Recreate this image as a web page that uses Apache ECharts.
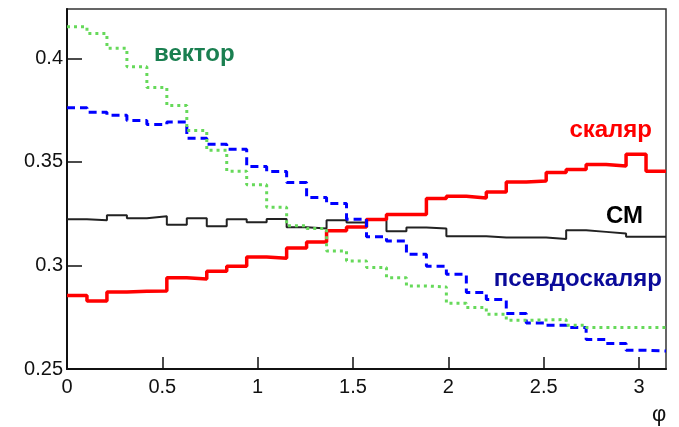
<!DOCTYPE html>
<html>
<head>
<meta charset="utf-8">
<script src="https://cdn.jsdelivr.net/npm/echarts@6/dist/echarts.min.js"></script>
<style>
  html, body { margin: 0; padding: 0; background: #fff; }
  #chart { width: 679px; height: 427px; }
</style>
</head>
<body>
<div id="chart"></div>
<script>
// 30 bins from 0 to pi
var nBins = 30;
var xMax = Math.PI;

// СМ
var smVals = [0.3223, 0.3218, 0.3242, 0.3228, 0.3237, 0.3197, 0.3228, 0.3189, 0.3223, 0.3209,
              0.3224, 0.3184, 0.3178, 0.3218, 0.3207, 0.3224, 0.3165, 0.3183, 0.3178, 0.3141,
              0.3141, 0.3135, 0.3135, 0.3135, 0.3128, 0.3170, 0.3162, 0.3154, 0.3138, 0.3138];
// скаляр
var scalarVals = [0.2855, 0.2828, 0.2872, 0.2875, 0.2877, 0.2940, 0.2935, 0.2972, 0.2996, 0.3041,
                  0.3035, 0.3084, 0.3113, 0.3167, 0.3185, 0.3222, 0.3246, 0.3246, 0.3323, 0.3334,
                  0.3326, 0.3355, 0.3403, 0.3408, 0.3449, 0.3463, 0.3487, 0.3480, 0.3537, 0.3455];
// псевдоскаляр
var pseudoVals = [0.3761, 0.3740, 0.3725, 0.3700, 0.3680, 0.3692, 0.3614, 0.3585, 0.3561, 0.3478,
                  0.3453, 0.3400, 0.3328, 0.3299, 0.3223, 0.3138, 0.3118, 0.3054, 0.2996, 0.2957,
                  0.2869, 0.2835, 0.2768, 0.2722, 0.2711, 0.2700, 0.2642, 0.2623, 0.2590, 0.2587];
// вектор
var vectorVals = [0.4152, 0.4120, 0.4049, 0.3959, 0.3859, 0.3772, 0.3651, 0.3556, 0.3455, 0.3389,
                  0.3281, 0.3191, 0.3178, 0.3070, 0.3021, 0.2990, 0.2941, 0.2901, 0.2896, 0.2817,
                  0.2797, 0.2764, 0.2735, 0.2737, 0.2739, 0.2711, 0.2700, 0.2700, 0.2700, 0.2700];

// histogram -> step points at bin edges
function histPoints(vals) {
  var pts = [];
  for (var i = 0; i < vals.length; i++) {
    pts.push([i * xMax / nBins, vals[i]]);
  }
  pts.push([xMax, vals[vals.length - 1]]);
  return pts;
}

var chart = echarts.init(document.getElementById('chart'));

var labelFont = '"Liberation Sans", Arial, Helvetica, sans-serif';

chart.setOption({
  animation: false,
  backgroundColor: '#fff',
  grid: {
    left: 67, right: 13, top: 9, bottom: 58,
    show: true, borderColor: '#333', borderWidth: 1.5, backgroundColor: 'transparent'
  },
  xAxis: {
    type: 'value',
    min: 0, max: xMax, interval: 0.5,
    axisLine: { show: true, onZero: false, lineStyle: { color: '#111', width: 2 } },
    axisTick: { show: true, inside: true, length: 12, lineStyle: { color: '#111', width: 1.5 } },
    axisLabel: { showMaxLabel: false, margin: 8, color: '#111', fontSize: 20, fontFamily: labelFont },
    splitLine: { show: false }
  },
  yAxis: {
    type: 'value',
    min: 0.25, max: 0.4238, interval: 0.05,
    axisLine: { show: true, onZero: false, lineStyle: { color: '#111', width: 2 } },
    axisTick: { show: true, inside: true, length: 15, lineStyle: { color: '#111', width: 1.5 } },
    axisLabel: { showMaxLabel: false, margin: 4, color: '#111', fontSize: 20, fontFamily: labelFont },
    splitLine: { show: false }
  },
  series: [
    {
      name: 'СМ', type: 'line', step: 'end', symbol: 'none',
      data: histPoints(smVals),
      lineStyle: { color: '#222', width: 2 }
    },
    {
      name: 'скаляр', type: 'line', step: 'end', symbol: 'none',
      data: histPoints(scalarVals),
      lineStyle: { color: '#ff0000', width: 3.5 }
    },
    {
      name: 'псевдоскаляр', type: 'line', step: 'end', symbol: 'none',
      data: histPoints(pseudoVals),
      lineStyle: { color: '#0000ff', width: 3, type: [8, 5] }
    },
    {
      name: 'вектор', type: 'line', step: 'end', symbol: 'none',
      data: histPoints(vectorVals),
      lineStyle: { color: '#66d95a', width: 3, type: [3, 4] }
    }
  ],
  graphic: [
    { type: 'text', left: 154, top: 42, style: { text: 'вектор', fill: '#1a7f50', font: 'bold 24px ' + labelFont } },
    { type: 'text', right: 27, top: 118, style: { text: 'скаляр', fill: '#ff0000', font: 'bold 24px ' + labelFont } },
    { type: 'text', right: 36, top: 204, style: { text: 'СМ', fill: '#000', font: 'bold 24px ' + labelFont } },
    { type: 'text', right: 17, top: 267, style: { text: 'псевдоскаляр', fill: '#0a0a99', font: 'bold 24px ' + labelFont } },
    { type: 'text', left: 652, top: 404, style: { text: 'φ', fill: '#111', font: '22px ' + labelFont } }
  ]
});
</script>
</body>
</html>
